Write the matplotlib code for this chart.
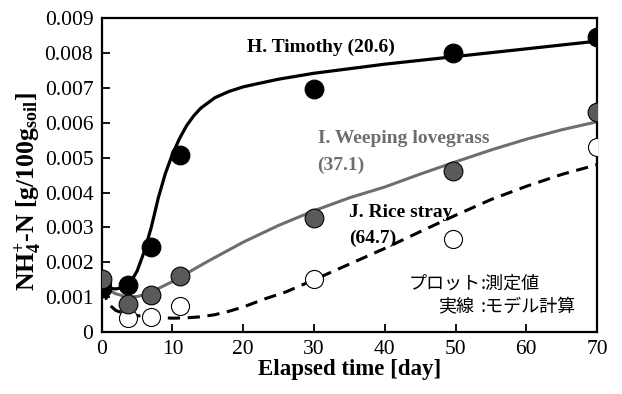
import matplotlib
matplotlib.use("Agg")
import matplotlib.pyplot as plt

plt.rcParams['font.family'] = ['Liberation Serif', 'Noto Sans CJK JP']
plt.rcParams['mathtext.fontset'] = 'custom'
plt.rcParams['mathtext.rm'] = 'Liberation Serif'
plt.rcParams['mathtext.bf'] = 'Liberation Serif:bold'
plt.rcParams['mathtext.it'] = 'Liberation Serif:italic'

# measured points
days = [0, 3.7, 7, 11.1, 30, 49.7, 70]
timothy = [0.00126, 0.00135, 0.00243, 0.00507, 0.00698, 0.00801, 0.00845]
lovegrass = [0.00152, 0.00080, 0.00106, 0.00160, 0.00326, 0.00462, 0.00630]
rice = [0.00145, 0.00040, 0.00044, 0.00074, 0.00151, 0.00268, 0.00530]

# model curves
tim_x = [0, 1, 2, 3, 4, 5, 6, 7, 8, 9, 10, 11, 12, 13, 14, 16, 18, 20, 22, 25, 30, 40, 50, 60, 70]
tim_y = [1.30, 1.25, 1.24, 1.28, 1.40, 1.75, 2.30, 3.00, 3.85, 4.55, 5.10, 5.55, 5.92, 6.20, 6.42,
         6.72, 6.90, 7.03, 7.12, 7.25, 7.42, 7.68, 7.90, 8.12, 8.34]
love_x = [0, 1, 2, 3, 4, 5, 6, 7, 8, 9, 10, 11, 13, 15, 20, 25, 30, 35, 40, 45, 50, 55, 60, 65, 70]
love_y = [1.40, 1.20, 1.10, 1.04, 1.01, 1.02, 1.07, 1.15, 1.25, 1.35, 1.45, 1.56, 1.80, 2.03,
          2.58, 3.06, 3.48, 3.85, 4.16, 4.53, 4.88, 5.22, 5.53, 5.80, 6.03]
rice_x = [0, 1, 2, 3, 4, 6, 8, 10, 12, 14, 16, 18, 20, 23, 26, 30, 35, 40, 45, 50, 55, 60, 65, 70]
rice_y = [1.25, 0.80, 0.62, 0.55, 0.50, 0.45, 0.42, 0.40, 0.41, 0.44, 0.50, 0.60, 0.72, 0.95,
          1.15, 1.50, 1.95, 2.40, 2.88, 3.35, 3.80, 4.18, 4.52, 4.80]

yticks = [0, 0.001, 0.002, 0.003, 0.004, 0.005, 0.006, 0.007, 0.008, 0.009]
ylabels = ['0', '0.001', '0.002', '0.003', '0.004', '0.005', '0.006', '0.007', '0.008', '0.009']
xticks = [0, 10, 20, 30, 40, 50, 60, 70]

gray = '#6e6e6e'

fig = plt.figure(figsize=(6.22, 3.94), dpi=100)
ax = fig.add_axes([0.1635, 0.157, 0.7965, 0.797])

ax.plot(tim_x, [v / 1000 for v in tim_y], color='black', lw=2.3, zorder=2)
ax.plot(love_x, [v / 1000 for v in love_y], color=gray, lw=2.2, zorder=2)
ax.plot(rice_x, [v / 1000 for v in rice_y], color='black', lw=2.2, ls=(0, (4, 2.5)), zorder=2)

ax.plot(days, rice, 'o', ms=13, mfc='white', mec='black', mew=0.8, zorder=3)
ax.plot(days, timothy, 'o', ms=13.5, mfc='black', mec='black', mew=0.8, zorder=4)
ax.plot(days, lovegrass, 'o', ms=13.5, mfc='#5a5a5a', mec='black', mew=0.8, zorder=5)

fs_ann = 14
ax.text(20.5, 0.00817, 'H. Timothy (20.6)', fontsize=fs_ann, fontweight='bold', va='center')
ax.text(30.5, 0.00556, 'I. Weeping lovegrass', fontsize=fs_ann, fontweight='bold', color=gray, va='center')
ax.text(30.5, 0.00478, '(37.1)', fontsize=fs_ann, fontweight='bold', color=gray, va='center')
ax.text(35.0, 0.00344, 'J. Rice stray', fontsize=fs_ann, fontweight='bold', va='center')
ax.text(35.0, 0.00269, '(64.7)', fontsize=fs_ann, fontweight='bold', va='center')

jp = ['Noto Sans CJK JP', 'DejaVu Sans']
ax.text(53.6, 0.00140, 'プロット', fontsize=13, family=jp, ha='right', va='center')
ax.text(53.6, 0.00140, ':測定値', fontsize=13, family=jp, ha='left', va='center')
ax.text(52.6, 0.00073, '実線', fontsize=13, family=jp, ha='right', va='center')
ax.text(53.6, 0.00073, ':モデル計算', fontsize=13, family=jp, ha='left', va='center')

ax.set_xlim(0, 70)
ax.set_ylim(0, 0.009)
ax.set_xticks(xticks)
ax.set_yticks(yticks)
ax.set_yticklabels(ylabels)
ax.tick_params(direction='in', length=6, width=1.3, labelsize=15.5, pad=6)
for s in ax.spines.values():
    s.set_linewidth(1.6)

ax.set_xlabel('Elapsed time [day]', fontsize=16.5, fontweight='bold', labelpad=0)
ax.set_ylabel(r'NH$_\mathbf{4}^\mathbf{+}$-N [g/100g$_\mathbf{soil}$]', fontsize=18.5,
              fontweight='bold', labelpad=0)
ax.yaxis.set_label_coords(-0.118, 0.447)

fig.savefig('out.png', dpi=100)
